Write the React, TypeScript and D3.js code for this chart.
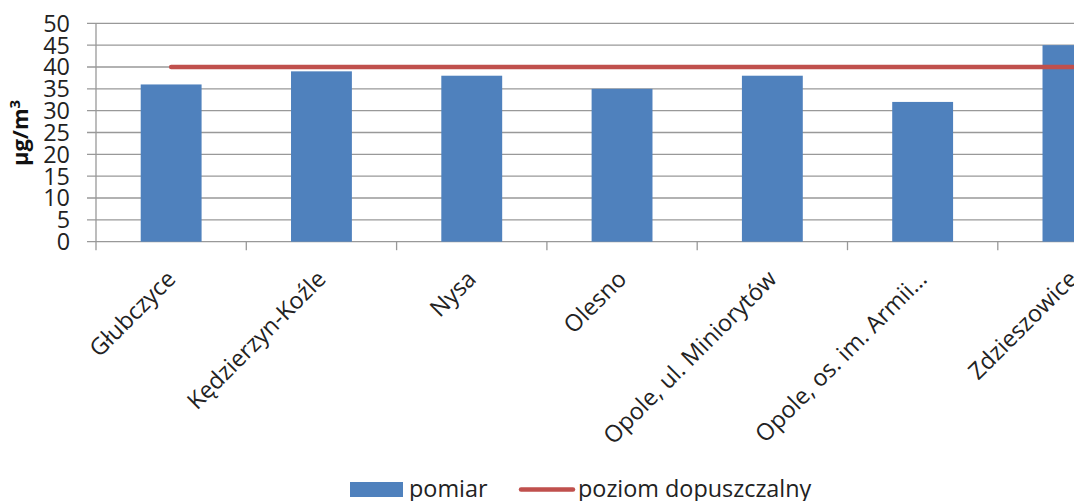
import React from "react";
import * as d3 from "d3";

const categories = [
  "Głubczyce",
  "Kędzierzyn-Koźle",
  "Nysa",
  "Olesno",
  "Opole, ul. Minioryt\u00f3w",
  "Opole, os. im. Armii…",
  "Zdzieszowice",
];
const pomiar = [36, 39, 38, 35, 38, 32, 45];
const poziomDopuszczalny = [40, 40, 40, 40, 40, 40, 40];
const yTicks = [0, 5, 10, 15, 20, 25, 30, 35, 40, 45, 50];

const W = 1074;
const H = 501;
const FONT = "'Open Sans', sans-serif";
const FS = 23.4;

export default function App() {
  const left = 96;
  const catW = 150.3;
  const right = left + catW * categories.length;
  const top = 23.3;
  const bottom = 241.7;

  const x = d3.scaleBand<string>().domain(categories).range([left, right]).padding(0);
  const y = d3.scaleLinear().domain([0, 50]).range([bottom, top]);
  const barW = x.bandwidth() * 0.405;
  const cx = (c: string) => (x(c) as number) + x.bandwidth() / 2;

  const line = d3
    .line<number>()
    .x((_, i) => cx(categories[i]))
    .y((d) => y(d));

  return (
    <svg
      width={W}
      height={H}
      style={{ position: "absolute", left: 0, top: 0, background: "#fff" }}
      fontFamily={FONT}
    >
      {/* gridlines */}
      {yTicks.map((t) => (
        <line key={"g" + t} x1={87} x2={right} y1={y(t)} y2={y(t)} stroke="#999" strokeWidth={1.3} />
      ))}
      {/* y axis line */}
      <line x1={left} x2={left} y1={top} y2={bottom} stroke="#999" strokeWidth={1.3} />
      {/* category ticks */}
      {d3.range(categories.length + 1).map((i) => (
        <line
          key={"ct" + i}
          x1={left + catW * i}
          x2={left + catW * i}
          y1={bottom}
          y2={bottom + 8.5}
          stroke="#999"
          strokeWidth={1.3}
        />
      ))}
      {/* bars */}
      {categories.map((c, i) => (
        <rect
          key={"b" + c}
          x={cx(c) - barW / 2}
          y={y(pomiar[i])}
          width={barW}
          height={bottom - y(pomiar[i])}
          fill="#4F81BD"
        />
      ))}
      {/* limit line */}
      <path
        d={line(poziomDopuszczalny) as string}
        fill="none"
        stroke="#C0504D"
        strokeWidth={4.5}
        strokeLinecap="round"
      />
      {/* y tick labels */}
      {yTicks.map((t) => (
        <text key={"yl" + t} x={70} y={y(t)} dy="0.36em" textAnchor="end" fontSize={FS} fill="#222">
          {t}
        </text>
      ))}
      {/* y title */}
      <text
        transform={`translate(28,133) rotate(-90)`}
        textAnchor="middle"
        fontSize={22}
        fontWeight="bold"
        fill="#111"
      >
        μg/m<tspan dy="-0.55em" fontSize={15}>3</tspan>
      </text>
      {/* category labels */}
      {categories.map((c) => (
        <text
          key={"cl" + c}
          transform={`translate(${cx(c)},${bottom + 33}) rotate(-45)`}
          textAnchor="end"
          dy="0.35em"
          fontSize={FS}
          fill="#222"
        >
          {c}
        </text>
      ))}
      {/* legend */}
      <rect x={350} y={482} width={53} height={15} fill="#4F81BD" />
      <text x={409} y={497} fontSize={FS} fill="#222">
        pomiar
      </text>
      <line x1={521} x2={573} y1={489.5} y2={489.5} stroke="#C0504D" strokeWidth={4.5} strokeLinecap="round" />
      <text x={578} y={497} fontSize={FS} fill="#222">
        poziom dopuszczalny
      </text>
    </svg>
  );
}
